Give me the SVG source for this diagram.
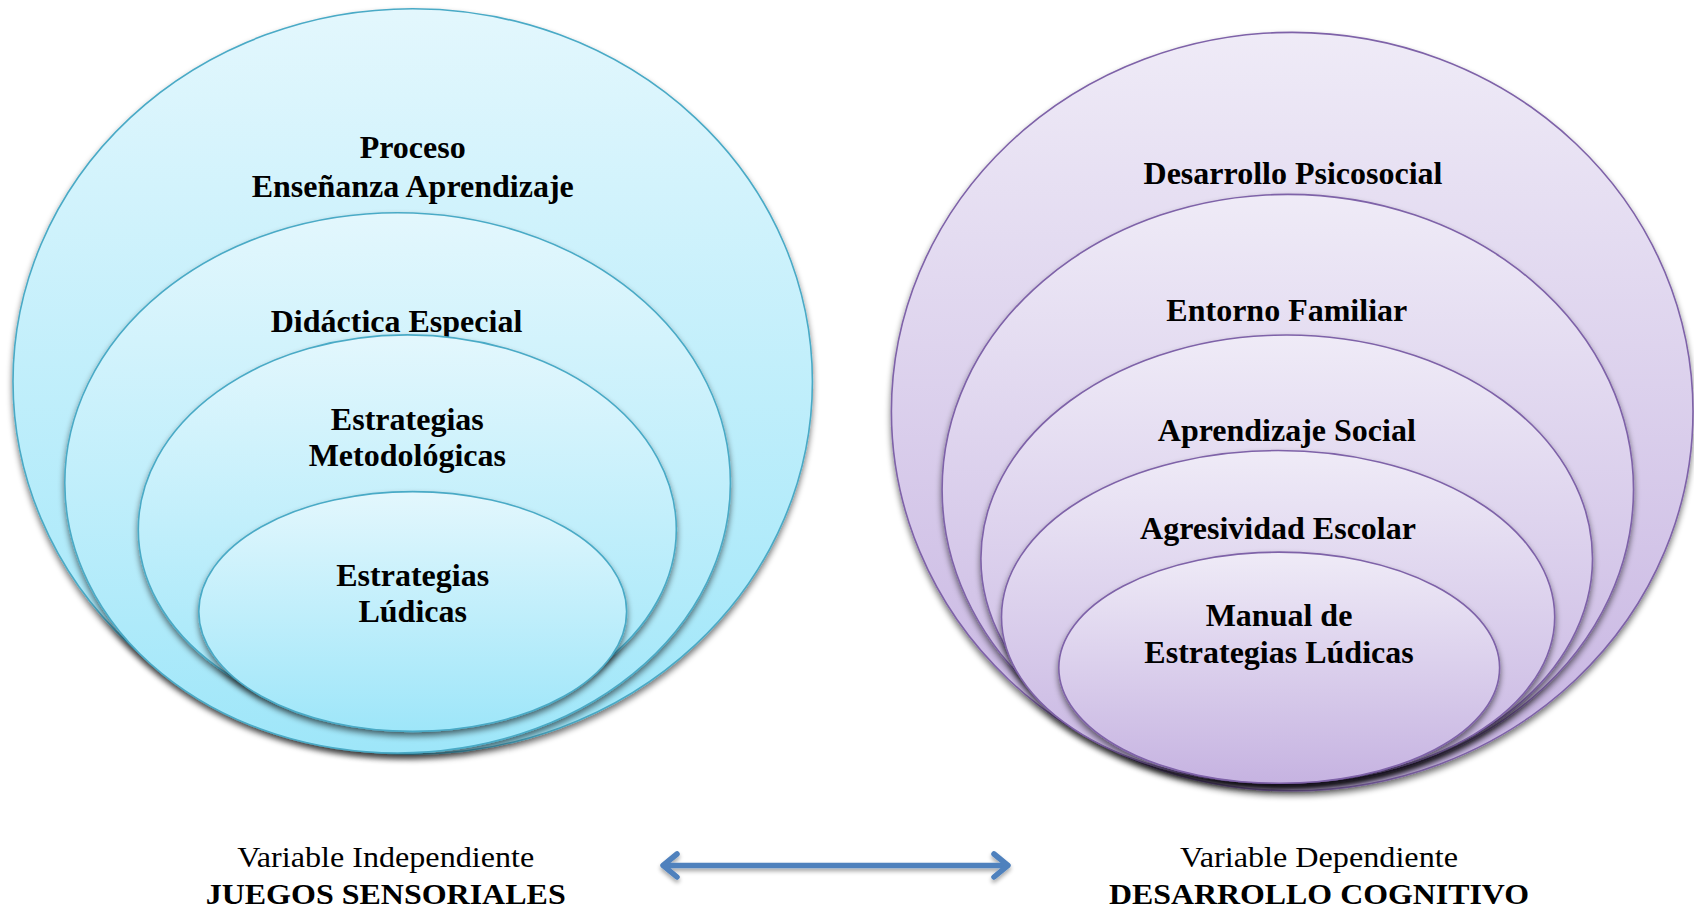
<svg xmlns="http://www.w3.org/2000/svg" width="1694" height="913" viewBox="0 0 1694 913">
<defs>
<linearGradient id="gb" x1="0" y1="0" x2="0" y2="1">
<stop offset="0" stop-color="#E3F7FD"/>
<stop offset="1" stop-color="#9EE6F9"/>
</linearGradient>
<linearGradient id="gp" x1="0" y1="0" x2="0" y2="1">
<stop offset="0" stop-color="#EFEBF7"/>
<stop offset="1" stop-color="#C6B3E1"/>
</linearGradient>
<filter id="sh" x="-10%" y="-10%" width="120%" height="125%">
<feGaussianBlur in="SourceAlpha" stdDeviation="3"/>
<feOffset dx="0" dy="4" result="b"/>
<feComponentTransfer><feFuncA type="linear" slope="0.55"/></feComponentTransfer>
<feMerge><feMergeNode/><feMergeNode in="SourceGraphic"/></feMerge>
</filter>
<filter id="ash" x="-5%" y="-50%" width="110%" height="200%">
<feGaussianBlur in="SourceAlpha" stdDeviation="2"/>
<feOffset dx="0" dy="3"/>
<feComponentTransfer><feFuncA type="linear" slope="0.35"/></feComponentTransfer>
<feMerge><feMergeNode/><feMergeNode in="SourceGraphic"/></feMerge>
</filter>
</defs>
<style>
.b{fill:url(#gb);stroke:#4AAAC6;stroke-width:1.6;filter:url(#sh)}
.p{fill:url(#gp);stroke:#7E62A8;stroke-width:1.6;filter:url(#sh)}
.t{font-family:"Liberation Serif","Times New Roman",serif;font-weight:bold;font-size:32px;fill:#000;text-anchor:middle}
.v{font-family:"Liberation Serif","Times New Roman",serif;font-size:30px;fill:#000;text-anchor:middle}
.vb{font-family:"Liberation Serif","Times New Roman",serif;font-weight:bold;font-size:30px;fill:#000;text-anchor:middle}
</style>
<rect width="1694" height="913" fill="#FFFFFF"/>

<g id="left">
<g id="n-proceso">
<ellipse class="b" cx="412.7" cy="381.4" rx="399.7" ry="372.7"/>
<text class="t" x="412.7" y="157.7">Proceso</text>
<text class="t" x="412.7" y="196.6">Enseñanza Aprendizaje</text>
</g>
<g id="n-didactica">
<ellipse class="b" cx="397.6" cy="482.9" rx="332.8" ry="270.1"/>
<text class="t" x="396.5" y="331.7">Didáctica Especial</text>
</g>
<g id="n-metodologicas">
<ellipse class="b" cx="407.3" cy="529.4" rx="269" ry="194.5"/>
<text class="t" x="407.3" y="430">Estrategias</text>
<text class="t" x="407.3" y="465.6">Metodológicas</text>
</g>
<g id="n-ludicas">
<ellipse class="b" cx="412.7" cy="611.5" rx="213.9" ry="119.9"/>
<text class="t" x="412.7" y="585.6">Estrategias</text>
<text class="t" x="412.7" y="622.3">Lúdicas</text>
</g>
</g>

<g id="right">
<g id="n-psicosocial">
<ellipse class="p" cx="1292.2" cy="411.6" rx="400.8" ry="379.2"/>
<text class="t" x="1293" y="183.7">Desarrollo Psicosocial</text>
</g>
<g id="n-familiar">
<ellipse class="p" cx="1287.8" cy="489.4" rx="345.7" ry="295"/>
<text class="t" x="1286.8" y="320.9">Entorno Familiar</text>
</g>
<g id="n-social">
<ellipse class="p" cx="1286.7" cy="558.6" rx="305.8" ry="223.6"/>
<text class="t" x="1286.8" y="440.8">Aprendizaje Social</text>
</g>
<g id="n-agresividad">
<ellipse class="p" cx="1278.1" cy="616.9" rx="276.6" ry="166.4"/>
<text class="t" x="1278" y="539.1">Agresividad Escolar</text>
</g>
<g id="n-manual">
<ellipse class="p" cx="1279.2" cy="667.7" rx="220.4" ry="115.6"/>
<text class="t" x="1279" y="625.6">Manual de</text>
<text class="t" x="1279" y="663.4">Estrategias Lúdicas</text>
</g>
</g>

<g id="labels">
<g id="n-indep">
<text class="v" x="385.7" y="867" textLength="297" lengthAdjust="spacingAndGlyphs">Variable Independiente</text>
<text class="vb" x="385.7" y="904" textLength="360" lengthAdjust="spacingAndGlyphs">JUEGOS SENSORIALES</text>
</g>
<g id="n-dep">
<text class="v" x="1319" y="867" textLength="278" lengthAdjust="spacingAndGlyphs">Variable Dependiente</text>
<text class="vb" x="1319" y="904" textLength="420" lengthAdjust="spacingAndGlyphs">DESARROLLO COGNITIVO</text>
</g>
</g>

<g id="connectors" filter="url(#ash)" fill="none" stroke="#4F81BD" stroke-width="5.5" stroke-linecap="round" stroke-linejoin="round">
<line x1="664" y1="865.4" x2="1007" y2="865.4"/>
<polyline points="677,854 663,865.4 677,877"/>
<polyline points="994,854 1008,865.4 994,877"/>
</g>
</svg>
